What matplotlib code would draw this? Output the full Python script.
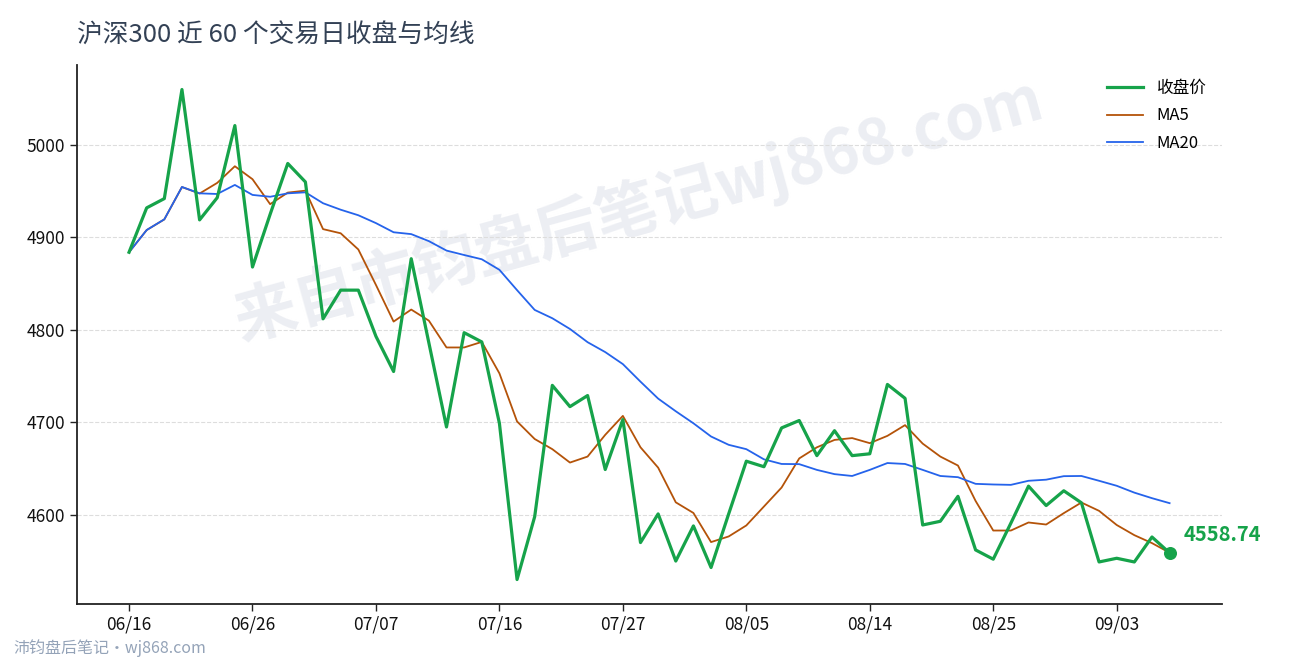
import matplotlib
matplotlib.use('Agg')
from matplotlib import pyplot as plt

plt.rcParams['font.family'] = ['Noto Sans CJK SC', 'DejaVu Sans']

# data
close = [4884, 4932, 4942, 5060, 4919, 4943, 5021, 4868, 4925, 4980,
         4960, 4812, 4843, 4843, 4793, 4755, 4877, 4786, 4695, 4797,
         4787, 4699, 4530, 4598, 4740, 4717, 4729, 4649, 4703, 4570,
         4601, 4550, 4588, 4543, 4601, 4658, 4652, 4694, 4702, 4664,
         4691, 4664, 4666, 4741, 4726, 4589, 4593, 4620, 4562, 4552,
         4591, 4631, 4610, 4626, 4613, 4549, 4553, 4549, 4576, 4558.74]
ma5 = [4884, 4908, 4919.5, 4954.5, 4947.5, 4959, 4977, 4963, 4936, 4948.5,
       4950.6, 4909, 4904.5, 4887, 4848.6, 4809, 4822, 4810, 4781, 4781,
       4787, 4753, 4701, 4682, 4671, 4656.5, 4663, 4686.5, 4707, 4673,
       4651, 4613.5, 4602, 4570.5, 4576.6, 4588.5, 4609, 4629.5, 4661, 4673,
       4681, 4683, 4677.5, 4685.4, 4697, 4677, 4663, 4653.3, 4615, 4583,
       4583, 4591.7, 4589.5, 4601.8, 4613.3, 4604.3, 4589, 4578, 4569.4, 4559]
ma20 = [4884, 4908, 4919.6, 4954.6, 4947.7, 4947, 4956.8, 4946, 4944, 4947.7,
        4948.8, 4937, 4930, 4924, 4915.5, 4905.6, 4903.6, 4896, 4885.8, 4881,
        4876.4, 4865, 4843, 4821.6, 4812.6, 4801, 4786.7, 4776, 4763, 4744,
        4725.7, 4712, 4699, 4684.7, 4675.7, 4671, 4660, 4655, 4654.8, 4648.6,
        4644, 4642, 4648.6, 4656, 4655, 4648.6, 4642, 4640.7, 4633.5, 4632.8,
        4632.4, 4636.8, 4638, 4641.8, 4642, 4636.8, 4631.4, 4624, 4618, 4612.6]
tick_idx = [0, 7, 14, 21, 28, 35, 42, 49, 56]
tick_labels = ['06/16', '06/26', '07/07', '07/16', '07/27',
               '08/05', '08/14', '08/25', '09/03']

x = list(range(len(close)))

fig = plt.figure(figsize=(12.9, 6.6), dpi=100)
ax = fig.add_axes([0.0597, 0.0848, 0.8873, 0.8167])

ax.plot(x, close, color='#16a34a', lw=2.3, label='收盘价', zorder=4)
ax.plot(x, ma5, color='#b45309', lw=1.3, label='MA5', zorder=3)
ax.plot(x, ma20, color='#2563eb', lw=1.3, label='MA20', zorder=3)

# last close marker + label
ax.scatter([x[-1]], [close[-1]], s=70, color='#16a34a', zorder=5)
ax.annotate('%.2f' % close[-1], (x[-1], close[-1]), xytext=(10, 13),
            textcoords='offset points', color='#16a34a', fontsize=14.5,
            fontweight='bold', ha='left', va='center')

ax.set_xticks(tick_idx)
ax.set_xticklabels(tick_labels)
ax.tick_params(axis='both', labelsize=12.5, length=5, width=1, color='#222222',
               labelcolor='#111111')
ax.grid(axis='y', linestyle='--', color='#dddddd', lw=0.8)
ax.set_axisbelow(True)
for side in ['top', 'right']:
    ax.spines[side].set_visible(False)
for side in ['left', 'bottom']:
    ax.spines[side].set_color('#222222')
    ax.spines[side].set_linewidth(1.3)

ax.legend(loc='upper right', frameon=False, fontsize=12, labelspacing=0.62,
          handlelength=2.2)

# watermark
ax.text(0.495, 0.682, '来自市钧盘后笔记wj868.com', transform=fig.transFigure,
        fontsize=45, fontweight='bold', color='#eceef3', rotation=15.5,
        rotation_mode='anchor', ha='center', va='center', zorder=0.5)

fig.text(77 / 1290, 1 - 36 / 660, '沪深300 近 60 个交易日收盘与均线',
         fontsize=18.5, color='#334155', ha='left', va='center')
fig.text(13 / 1290, 1 - 648 / 660, '沛钧盘后笔记·wj868.com',
         fontsize=11.5, color='#94a3b8', ha='left', va='center')

fig.savefig('out.png', dpi=100)
